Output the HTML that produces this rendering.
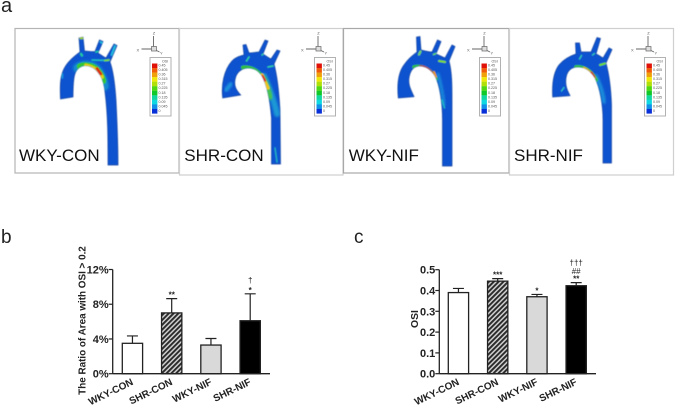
<!DOCTYPE html>
<html>
<head>
<meta charset="utf-8">
<style>
html,body{margin:0;padding:0;background:#fff;}
svg{display:block;font-family:"Liberation Sans",sans-serif;}
</style>
</head>
<body>
<svg id="fig" xmlns="http://www.w3.org/2000/svg" width="675" height="408" viewBox="0 0 675 408">
<defs>
<filter id="soft" x="-10%" y="-10%" width="120%" height="120%"><feGaussianBlur stdDeviation="0.5"/></filter>
<filter id="soft2" x="-30%" y="-30%" width="160%" height="160%"><feGaussianBlur stdDeviation="1"/></filter>
<filter id="textsoft" x="-5%" y="-5%" width="110%" height="110%"><feGaussianBlur stdDeviation="0.25"/></filter>
<pattern id="hatch" patternUnits="userSpaceOnUse" width="3.4" height="3.4" patternTransform="rotate(45)">
<rect width="3.4" height="3.4" fill="#d0d0d0"/>
<rect width="1.9" height="3.4" fill="#2a2a2a"/>
</pattern>
<clipPath id="clip1"><path d="M60.5,99 C60,88 60,78 63,71 C66,63 73,57 80,52 L79,38 L83,37 L84.5,51 C88,51 92,52 95,51.5 L99.5,40 L103,41.5 L98,53 C101,55 104,57 106,58 L114,44 L117,45.5 L110,62 C113,70 115,85 116,100 C117,120 118,145 118,165 L108,165 C108,140 108,115 105,92 C104,80 99,69 89,66 C80,64 75,70 74,78 C73,85 73,90 73,97 Z"/></clipPath>
<clipPath id="clip2"><path d="M222.7,98 C221,85 224,70 232,61 C236,57 240,56 244,55 L243,45 L246,44.5 L249,53 C253,53 256,52 259,52 L265,40 L268,41 L263,54 C266,56 269,58 271,59 L277,50 L280,51 L274,64 C277,75 279,92 280,110 L280.5,164 L271.5,164 L271.5,118 C270,100 267,85 262,76 C259,71 254,68 248,68 C241,68 236,73 235,80 C234,86 236,90 240.7,95 Z"/></clipPath>
<clipPath id="clip3"><path d="M398.3,98 C397,85 398,73 404,65 C408,59 412,56 417,52 L416.5,37 L420,36.5 L421,50 C425,51 429,52 432,52 L437.5,40 L441,41.5 L436,54 C439,55 442,57 445,58 L452,45 L455,46.5 L449,61 C452,72 452,85 452,100 L452,166 L442.5,166 L442.5,120 C442.5,105 440,85 435,76 C431,69 425,66 420,66 C413,66 410,71 409,78 C408,85 411,90 414,96.7 Z"/></clipPath>
<clipPath id="clip4"><path d="M552.7,97 C552,85 553,73 559,65 C564,59 570,56 576,54 L575.5,43 L579.5,43 L581,52 C585,52 588,52 591,52 L597,37.5 L600.5,38.5 L596,54 C599,55 601,57 603,58 L609,48 L612,49.5 L606,63 C609,74 611,90 611.5,105 L611.5,163 L603,163 L603,120 C603,105 600,88 595,78 C591,71 585,67 578,67 C571,67 567,71 566,78 C565,85 567,90 570,95.7 Z"/></clipPath>
</defs>

<text x="1" y="12" font-size="20" fill="#222">a</text>
<text x="1" y="243" font-size="19" fill="#222">b</text>
<text x="354" y="243" font-size="19" fill="#222">c</text>

<!-- image frames -->
<g fill="none">
<rect x="15" y="28.5" width="164" height="144.5" stroke="#b4b4b4" stroke-width="1.2"/>
<rect x="179.5" y="28.5" width="163.5" height="146.5" stroke="#cfcfcf" stroke-width="1.2"/>
<rect x="343.5" y="28.5" width="165.5" height="144.5" stroke="#a8a8a8" stroke-width="1.2"/>
<rect x="509.5" y="28.5" width="164" height="146.5" stroke="#cfcfcf" stroke-width="1.2"/>
</g>

<!-- WKY-CON aorta -->
<g filter="url(#soft)">
<path d="M60.5,99 C60,88 60,78 63,71 C66,63 73,57 80,52 L79,38 L83,37 L84.5,51 C88,51 92,52 95,51.5 L99.5,40 L103,41.5 L98,53 C101,55 104,57 106,58 L114,44 L117,45.5 L110,62 C113,70 115,85 116,100 C117,120 118,145 118,165 L108,165 C108,140 108,115 105,92 C104,80 99,69 89,66 C80,64 75,70 74,78 C73,85 73,90 73,97 Z" fill="#0f52d0" stroke="#0b3f9e" stroke-width="0.7"/>
<g clip-path="url(#clip1)" fill="none" stroke-linecap="round">
<path d="M78,68 C83,65 86,65.5 89,66 C96,67 101,73 104,86" stroke="#14c0d0" stroke-width="10" opacity="0.55" filter="url(#soft2)"/>
<path d="M80,66.5 C83,65 86,65.5 89,66 C96,67 101,73 103,81" stroke="#35c830" stroke-width="6.5"/>
<path d="M86,65.5 C93,66.5 99,71 102,77" stroke="#e8d010" stroke-width="3.6"/>
<path d="M97,68.5 L101,74" stroke="#e02010" stroke-width="2.6"/>
<path d="M92,60 L108,60.5" stroke="#20c0c0" stroke-width="1.4"/>
<path d="M105,60.5 L109,60" stroke="#7ce020" stroke-width="1.8"/>
<path d="M80.5,38 L82.5,38" stroke="#a0d820" stroke-width="2.4"/>
<path d="M81,54 L82,55.5" stroke="#20c8a0" stroke-width="2.4"/>
<path d="M96,52 L98,51.5" stroke="#20d0a0" stroke-width="1.6"/>
<path d="M100.5,42 L102,43 M115,46 L111.5,55" stroke="#20c0e0" stroke-width="1.8"/>
<path d="M62.5,74 L62.5,78" stroke="#15a0e0" stroke-width="1.4"/>
</g>
</g>

<!-- SHR-CON aorta -->
<g filter="url(#soft)">
<path d="M222.7,98 C221,85 224,70 232,61 C236,57 240,56 244,55 L243,45 L246,44.5 L249,53 C253,53 256,52 259,52 L265,40 L268,41 L263,54 C266,56 269,58 271,59 L277,50 L280,51 L274,64 C277,75 279,92 280,110 L280.5,164 L271.5,164 L271.5,118 C270,100 267,85 262,76 C259,71 254,68 248,68 C241,68 236,73 235,80 C234,86 236,90 240.7,95 Z" fill="#0f52d0" stroke="#0b3f9e" stroke-width="0.7"/>
<g clip-path="url(#clip2)" fill="none" stroke-linecap="round">
<path d="M264,76 C269,88 274,100 277,114" stroke="#20b8d8" stroke-width="6" opacity="0.7" filter="url(#soft2)"/>
<path d="M263,78 C266,84 268,90 270,97" stroke="#50d030" stroke-width="5.5" opacity="0.85" filter="url(#soft2)"/>
<path d="M243,67.5 C250,66.5 258,70 263,78" stroke="#30c040" stroke-width="4"/>
<path d="M262,75 C264,80 266,84 268,88" stroke="#f0c810" stroke-width="3.2"/>
<path d="M262.5,76 L265,80.5" stroke="#e02010" stroke-width="2.2"/>
<path d="M226,90 L231,84" stroke="#20a8e0" stroke-width="4" opacity="0.8" filter="url(#soft2)"/>
<path d="M246.5,61 L249,57 M262,55 L264,53.5 M268,67 L273,66" stroke="#30d0a0" stroke-width="1.6"/>
<path d="M275,148 L277,162" stroke="#20b0c0" stroke-width="1.4"/>
</g>
</g>

<!-- WKY-NIF aorta -->
<g filter="url(#soft)">
<path d="M398.3,98 C397,85 398,73 404,65 C408,59 412,56 417,52 L416.5,37 L420,36.5 L421,50 C425,51 429,52 432,52 L437.5,40 L441,41.5 L436,54 C439,55 442,57 445,58 L452,45 L455,46.5 L449,61 C452,72 452,85 452,100 L452,166 L442.5,166 L442.5,120 C442.5,105 440,85 435,76 C431,69 425,66 420,66 C413,66 410,71 409,78 C408,85 411,90 414,96.7 Z" fill="#0f52d0" stroke="#0b3f9e" stroke-width="0.7"/>
<g clip-path="url(#clip3)" fill="none" stroke-linecap="round">
<path d="M438,74 C441,85 443,95 444,105" stroke="#20a8e0" stroke-width="3" opacity="0.7" filter="url(#soft2)"/>
<path d="M414,67 C420,65.5 430,67 436,79" stroke="#30c040" stroke-width="3.6"/>
<path d="M420,66 C426,66 431,70 435,76" stroke="#c82818" stroke-width="1.6"/>
<path d="M434,72 L436,77" stroke="#f0a010" stroke-width="1.8"/>
<path d="M439,61 L445,62" stroke="#80e020" stroke-width="2"/>
<path d="M419,54.5 L420.5,51.5" stroke="#70d860" stroke-width="2.2"/>
<path d="M433.5,54.5 L436,53.5" stroke="#60d860" stroke-width="1.6"/>
<path d="M442,100 L444.5,108" stroke="#20c0c0" stroke-width="1.2"/>
</g>
</g>

<!-- SHR-NIF aorta -->
<g filter="url(#soft)">
<path d="M552.7,97 C552,85 553,73 559,65 C564,59 570,56 576,54 L575.5,43 L579.5,43 L581,52 C585,52 588,52 591,52 L597,37.5 L600.5,38.5 L596,54 C599,55 601,57 603,58 L609,48 L612,49.5 L606,63 C609,74 611,90 611.5,105 L611.5,163 L603,163 L603,120 C603,105 600,88 595,78 C591,71 585,67 578,67 C571,67 567,71 566,78 C565,85 567,90 570,95.7 Z" fill="#0f52d0" stroke="#0b3f9e" stroke-width="0.7"/>
<g clip-path="url(#clip4)" fill="none" stroke-linecap="round">
<path d="M596,76 C600,85 603,92 604,102" stroke="#20a8e0" stroke-width="3.6" opacity="0.75" filter="url(#soft2)"/>
<path d="M576,67 C583,66.5 591,70 596,80" stroke="#30c040" stroke-width="3.8"/>
<path d="M584,68 C589,70 592,74 594.5,78" stroke="#f0b010" stroke-width="2.2"/>
<path d="M591.5,72.5 L594.5,77" stroke="#d82010" stroke-width="1.8"/>
<path d="M600,65 L605,63.5" stroke="#70e020" stroke-width="2"/>
<path d="M579.5,59 L581.5,55.5 M592.5,55 L594.5,53.5" stroke="#30c8b0" stroke-width="1.4"/>
<path d="M561.5,91 L564,87.5" stroke="#30c8c0" stroke-width="1.2"/>
</g>
</g>

<g id="triads"></g>
<g id="legends"></g>

<text x="19" y="161" font-size="17" fill="#111">WKY-CON</text>
<text x="184.3" y="161" font-size="17" fill="#111">SHR-CON</text>
<text x="348.7" y="161" font-size="17" fill="#111">WKY-NIF</text>
<text x="514" y="161" font-size="17" fill="#111">SHR-NIF</text>

<g id="chartB" filter="url(#textsoft)"></g>
<g id="chartC" filter="url(#textsoft)"></g>
</svg>

<script>
var groups = ['WKY-CON', 'SHR-CON', 'WKY-NIF', 'SHR-NIF'];

var ratioMeans = [3.5, 7.0, 3.3, 6.1];
var ratioErrors = [0.85, 1.65, 0.75, 3.1];
var ratioTicks = [0, 4, 8, 12];
var ratioNotes = [[], ['**'], [], ['*', '†']];

var osiMeans = [0.39, 0.445, 0.37, 0.423];
var osiErrors = [0.02, 0.012, 0.011, 0.015];
var osiTicks = [0, 0.1, 0.2, 0.3, 0.4, 0.5];
var osiNotes = [[], ['***'], ['*'], ['**', '##', '†††']];

var legendLabels = ['0.45', '0.405', '0.36', '0.315', '0.27', '0.225', '0.18', '0.135', '0.09', '0.045', '0'];
var legendColors = ['#e01208', '#f05a08', '#f0a008', '#f0e808', '#b0e008', '#50d810', '#10c828', '#10d8a0', '#10d8e0', '#1090e8', '#0830d8'];
var legendLefts = [150, 314.5, 479.5, 644.5];
var triadCenters = [153.5, 318, 484, 648];

var NS = 'http://www.w3.org/2000/svg';
function make(parent, tag, attrs, text) {
  var el = document.createElementNS(NS, tag);
  for (var k in attrs) el.setAttribute(k, attrs[k]);
  if (text !== undefined) el.textContent = text;
  parent.appendChild(el);
  return el;
}

legendLefts.forEach(function (left) {
  var box = make(document.getElementById('legends'), 'rect', {x: left, y: 57.5, width: 21, height: 58.5, fill: '#fff', stroke: '#aaa', 'stroke-width': 0.9});
  
  
  var title = make(document.getElementById('legends'), 'text', {x: left + 12, y: 62.5, 'font-size': 3.6, fill: '#555'}, 'OSI');
  
  
  legendColors.forEach(function (color, i) {
    var step = 50 / legendColors.length;
    var swatch = make(document.getElementById('legends'), 'rect', {x: left + 2, y: 63.5 + i * step, width: 5.4, height: step + 0.1, fill: color});
    
    
    var label = make(document.getElementById('legends'), 'text', {x: left + 8.5, y: 66.5 + i * step, 'font-size': 3.6, fill: '#555'}, legendLabels[i]);
    
    
  });
});

triadCenters.forEach(function (cx) {
  var g = make(document.getElementById('triads'), 'g', {stroke: '#666', 'stroke-width': 0.9, fill: 'none'});
  
  
  make(g, 'path', {d: 'M' + cx + ' 49V36M' + cx + ' 49H' + (cx - 12) + 'M' + cx + ' 49l6 3'});
  make(g, 'rect', {x: cx - 2, y: 46.5, width: 5, height: 4.5, fill: '#ddd', 'stroke-width': 0.7});
  var z = make(document.getElementById('triads'), 'text', {x: cx - 0.8, y: 34.5, 'font-size': 4, fill: '#555'}, 'Z');
  
  
  var x = make(document.getElementById('triads'), 'text', {x: cx - 17, y: 51.5, 'font-size': 4, fill: '#555'}, 'X');
  
  
  var y = make(document.getElementById('triads'), 'text', {x: cx + 6.5, y: 54.5, 'font-size': 4, fill: '#555'}, 'Y');
  
  
});

function drawChart(root, cfg) {
  var barW = 20.3, step = 39.25, ink = '#222';
  function yPos(v) { return cfg.y0 - (v / cfg.max) * (cfg.y0 - cfg.yTop); }
  function xPos(i) { return cfg.x0 + cfg.firstBar + i * step; }

  cfg.means.forEach(function (m, i) {
    var x = xPos(i), top = yPos(m), errTop = yPos(m + cfg.errors[i]), cx = x + barW / 2;
    var err = make(root, 'path', {d: 'M' + cx + ' ' + top + 'V' + errTop + 'M' + (cx - 5.5) + ' ' + errTop + 'H' + (cx + 5.5), stroke: ink, 'stroke-width': 1.2, fill: 'none'});
    
    
    var fills = ['#fff', 'url(#hatch)', '#d9d9d9', '#000'];
    var bar = make(root, 'rect', {x: x, y: top, width: barW, height: cfg.y0 - top, fill: fills[i], stroke: ink, 'stroke-width': 1.3});
    
    
    cfg.notes[i].forEach(function (note, j) {
      var first = note.charAt(0);
      var lift = first === '*' ? 0 : (first === '#' ? 1.5 : 4);
      var t = make(root, 'text', {x: cx, y: errTop - 1 - j * cfg.noteStep - lift, 'text-anchor': 'middle', 'font-size': 8, 'font-weight': first === '*' ? 'bold' : 'normal', fill: ink}, note);
      
      
    });
    var tx = cx + 1.5, ty = cfg.y0 + 10.5;
    var lab = make(root, 'text', {x: tx, y: ty, 'text-anchor': 'end', 'font-size': 10, 'font-weight': 'bold', fill: '#222', transform: 'rotate(-26 ' + tx + ' ' + ty + ')'}, groups[i]);
    
    
  });

  var axes = make(root, 'path', {d: 'M' + cfg.x0 + ' ' + cfg.yTop + 'V' + cfg.y0 + 'M' + cfg.x0 + ' ' + cfg.y0 + 'H' + cfg.xEnd, stroke: ink, 'stroke-width': 1.3, fill: 'none'});
  
  

  cfg.ticks.forEach(function (v) {
    var y = yPos(v);
    var tick = make(root, 'line', {x1: cfg.x0 - 4, x2: cfg.x0, y1: y, y2: y, stroke: ink, 'stroke-width': 1.2});
    
    
    var lab = make(root, 'text', {x: cfg.x0 - 4, y: y + 4, 'text-anchor': 'end', 'font-size': 11, 'font-weight': 'bold', fill: '#222'}, cfg.fmt(v));
    
    
  });

  var ttl = make(root, 'text', {x: cfg.titleX, y: cfg.titleY, 'text-anchor': 'middle', 'font-size': cfg.titleSize, 'font-weight': 'bold', fill: '#222', transform: 'rotate(-90 ' + cfg.titleX + ' ' + cfg.titleY + ')'}, cfg.title);
  
  
}

drawChart(document.getElementById('chartB'), {
  means: ratioMeans, errors: ratioErrors, ticks: ratioTicks, notes: ratioNotes,
  max: 12, x0: 112.7, xEnd: 270, y0: 373.7, yTop: 269.5, firstBar: 9.6,
  noteStep: 6, title: 'The Ratio of Area with OSI > 0.2', titleX: 85.5, titleY: 320.5, titleSize: 9.9,
  fmt: function (v) { return v + '%'; }
});
drawChart(document.getElementById('chartC'), {
  means: osiMeans, errors: osiErrors, ticks: osiTicks, notes: osiNotes,
  max: 0.5, x0: 439.3, xEnd: 596, y0: 373.7, yTop: 269.7, firstBar: 9,
  noteStep: 6, title: 'OSI', titleX: 418, titleY: 319, titleSize: 10.4,
  fmt: function (v) { return v.toFixed(1); }
});
</script>
</body>
</html>
